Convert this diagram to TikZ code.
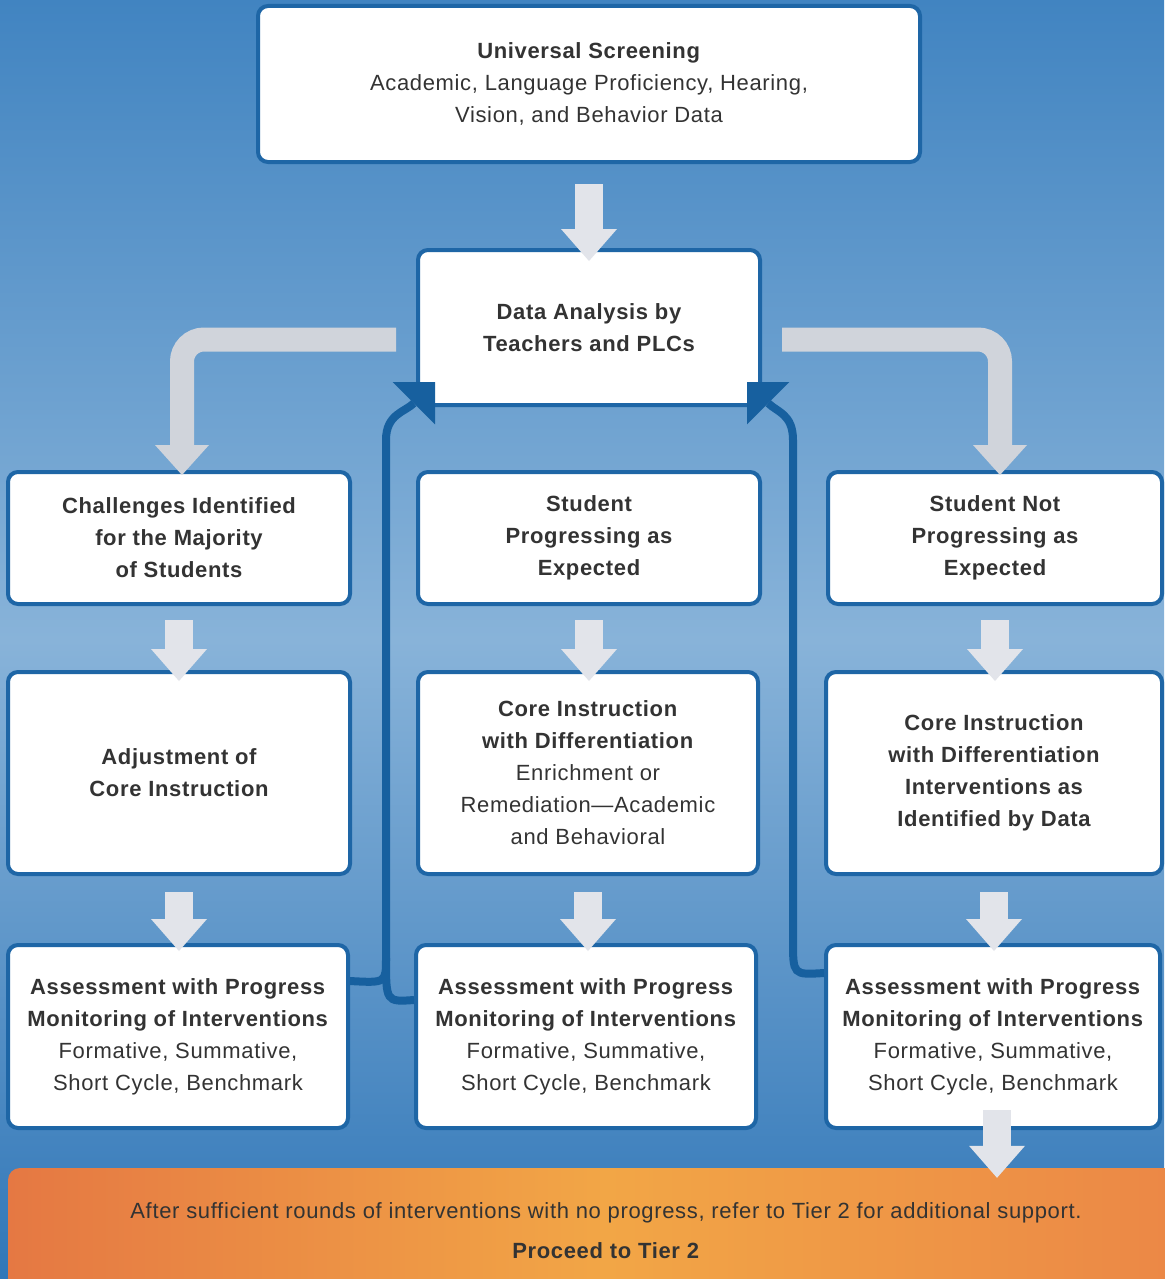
\documentclass[tikz,border=0pt]{standalone}
\usepackage{fontspec}
\setmainfont[LetterSpace=3]{Liberation Sans}
\usetikzlibrary{arrows.meta,calc}
\definecolor{bgtop}{HTML}{4184C1}
\definecolor{bgmid}{HTML}{88B3D9}
\definecolor{bgbot}{HTML}{3177B8}
\definecolor{boxblue}{HTML}{1E66A6}
\definecolor{backblue}{HTML}{17609F}
\definecolor{downgray}{HTML}{E2E4EA}
\definecolor{sidegray}{HTML}{D0D4DB}
\definecolor{txt}{HTML}{333333}
\definecolor{orL}{HTML}{E57843}
\definecolor{orM}{HTML}{F2A646}
\definecolor{orR}{HTML}{EB8646}
\begin{document}
\begin{tikzpicture}[x=1pt, y=-1pt,
  box/.style={draw=boxblue, line width=4pt, fill=white, rounded corners=10pt, align=center,
    inner sep=0pt, text=txt, font=\fontsize{22}{32}\selectfont},
  title/.style={font=\bfseries\fontsize{22}{32}\selectfont},
  downarrow/.style={downgray, line width=28pt, -{Triangle[length=32pt,width=56pt,line width=0pt]}},
  sidearrow/.style={sidegray, line width=24pt, rounded corners=22pt,
    -{Triangle[length=30pt,width=54pt,line width=0pt]}},
  backarrow/.style={backblue, line width=8pt, -{Triangle[length=30pt,width=60pt,line width=0pt]}}]
\useasboundingbox (0,0) rectangle (1164,1279);
\shade[top color=bgtop, bottom color=bgbot, middle color=bgmid] (0,0) rectangle (1164,1279);

\node[box, minimum width=662pt, minimum height=156pt] (screen) at (589,84)
  {\textbf{Universal Screening}\\Academic, Language Proficiency, Hearing,\\Vision, and Behavior Data};
\node[box, title, minimum width=342pt, minimum height=155pt] (data) at (589,327.5)
  {Data Analysis by\\Teachers and PLCs};

% row 1
\node[box, title, minimum width=342pt, minimum height=132pt] (left1) at (179,538)
  {Challenges Identified\\for the Majority\\of Students};
\node[box, title, minimum width=342pt, minimum height=132pt] (mid1) at (589,538)
  {Student\\Progressing as\\Expected};
\node[box, title, minimum width=334pt, minimum height=132pt] (right1) at (995,538)
  {Student Not\\Progressing as\\Expected};

% row 2
\node[box, title, minimum width=342pt, minimum height=202pt] (left2) at (179,773)
  {Adjustment of\\Core Instruction};
\node[box, minimum width=340pt, minimum height=202pt] (mid2) at (588,773)
  {\textbf{Core Instruction}\\\textbf{with Differentiation}\\Enrichment or\\Remediation---Academic\\and Behavioral};
\node[box, title, minimum width=336pt, minimum height=202pt] (right2) at (994,773)
  {Core Instruction\\with Differentiation\\Interventions as\\Identified by Data};

% row 3
\node[box, minimum width=340pt, minimum height=183pt] (left3) at (178,1036.5)
  {\textbf{Assessment with Progress}\\\textbf{Monitoring of Interventions}\\Formative, Summative,\\Short Cycle, Benchmark};
\node[box, minimum width=340pt, minimum height=183pt] (mid3) at (586,1036.5)
  {\textbf{Assessment with Progress}\\\textbf{Monitoring of Interventions}\\Formative, Summative,\\Short Cycle, Benchmark};
\node[box, minimum width=334pt, minimum height=183pt] (right3) at (993,1036.5)
  {\textbf{Assessment with Progress}\\\textbf{Monitoring of Interventions}\\Formative, Summative,\\Short Cycle, Benchmark};

\node[shade, left color=orL, right color=orR, middle color=orM, rounded corners=12pt,
  minimum width=1196pt, minimum height=126pt, align=center, text=txt,
  font=\fontsize{22}{40}\selectfont] (tier) at (606,1231)
  {After sufficient rounds of interventions with no progress, refer to Tier 2 for additional support.\\
   \textbf{Proceed to Tier 2}};

% arrows
\draw[downarrow] ($(screen.south)+(0,20)$) -- ($(data.north)+(0,13)$);
\foreach \c in {left,mid,right} {
  \draw[downarrow] ($(\c1.south)+(0,14)$) -- ($(\c1.south |- \c2.north)+(0,11)$);
  \draw[downarrow] ($(\c2.south)+(0,16)$) -- ($(\c2.south |- \c3.north)+(0,8)$);
}
\draw[downarrow] ($(right3.south)+(4,-20)$) -- ($(right3.south |- tier.north)+(4,10)$);
\draw[sidearrow] ($(data.west)+(-20,12)$) -| ($(left1.north)+(3,5)$);
\draw[sidearrow] ($(data.east)+(20,12)$) -| ($(right1.north)+(5,5)$);

\coordinate (ljoin) at (386,958);
\draw[backarrow] ($(mid3.north west)+(0,57)$) .. controls (386,1002) .. (ljoin)
  -- (386,440) .. controls (386,414) and (405,412) .. ($(data.south west)+(19,-25)$);
\draw[backblue, line width=8pt] ($(left3.north east)+(0,38)$) .. controls (386,983) .. (ljoin);
\draw[backarrow] ($(right3.north west)+(0,30)$) .. controls (793,975) .. (793,940)
  -- (793,440) .. controls (793,414) and (777,412) .. ($(data.south east)+(-15,-25)$);
\end{tikzpicture}
\end{document}
